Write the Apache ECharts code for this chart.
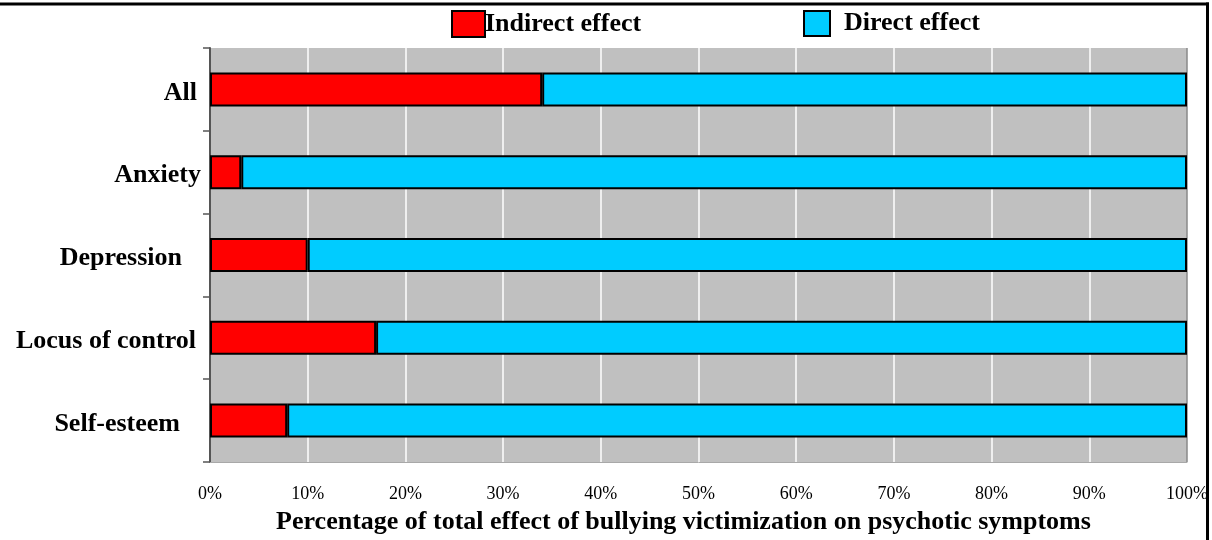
<!DOCTYPE html>
<html>
<head>
<meta charset="utf-8">
<script src="https://cdn.jsdelivr.net/npm/echarts@6/dist/echarts.min.js"></script>
<style>
html,body{margin:0;padding:0;background:#fff;}
#chart{width:1212px;height:540px;}
</style>
</head>
<body>
<div id="chart"></div>
<script>
var categories = ['All', 'Anxiety', 'Depression', 'Locus of control', 'Self-esteem'];
var indirectEffect = [34.0, 3.2, 10.0, 17.0, 7.9];
var directEffect = [66.0, 96.8, 90.0, 83.0, 92.1];
var xTicks = ['0%', '10%', '20%', '30%', '40%', '50%', '60%', '70%', '80%', '90%', '100%'];
var seriesNames = ['Indirect effect', 'Direct effect'];
var xTitle = 'Percentage of total effect of bullying victimization on psychotic symptoms';

var labelExtraPad = [0, -4, 15, 1, 17];
var FONT = '"Liberation Serif", "Times New Roman", serif';

var chart = echarts.init(document.getElementById('chart'), null, {renderer: 'canvas'});

var splitColors = [];
for (var i = 0; i < xTicks.length; i++) {
  splitColors.push(i === xTicks.length - 1 ? '#8a8a8a' : '#ffffff');
}

var richLabels = {};
for (var j = 0; j < categories.length; j++) {
  richLabels['p' + j] = {
    fontFamily: FONT, fontWeight: 'bold', fontSize: 26, color: '#000',
    padding: [7, labelExtraPad[j], 0, 0]
  };
}

var option = {
  animation: false,
  backgroundColor: '#ffffff',
  grid: {
    left: 210, right: 25, top: 48, bottom: 76,
    show: true, backgroundColor: '#c0c0c0', borderWidth: 0
  },
  legend: [
    {
      data: [seriesNames[0]], left: 451, top: 10, padding: 0,
      itemWidth: 33, itemHeight: 26, icon: 'rect',
      textStyle: {fontFamily: FONT, fontWeight: 'bold', fontSize: 26, color: '#000', padding: [0, 0, 0, -5]}
    },
    {
      data: [seriesNames[1]], left: 803, top: 10, padding: 0,
      itemWidth: 26, itemHeight: 25, icon: 'rect',
      textStyle: {fontFamily: FONT, fontWeight: 'bold', fontSize: 26, color: '#000', padding: [0, 0, 0, 9]}
    }
  ],
  xAxis: {
    type: 'value', min: 0, max: 100, interval: 10,
    axisLine: {show: true, lineStyle: {color: '#a8a8a8', width: 1}},
    axisTick: {show: false},
    splitLine: {show: true, lineStyle: {color: splitColors, width: 1.5}},
    axisLabel: {
      margin: 23, fontFamily: FONT, fontSize: 18, color: '#000',
      formatter: function (v) { return xTicks[Math.round(v / 10)]; }
    },
    name: xTitle, nameLocation: 'middle', nameGap: 47,
    nameTextStyle: {fontFamily: FONT, fontWeight: 'bold', fontSize: 26, color: '#000', padding: [0, 30, 0, 0]}
  },
  yAxis: {
    type: 'category', inverse: true,
    data: categories,
    axisLine: {show: true, lineStyle: {color: '#555', width: 2}},
    axisTick: {show: true, inside: false, length: 7, lineStyle: {color: '#555', width: 1.5}},
    axisLabel: {
      margin: 13, fontFamily: FONT, fontWeight: 'bold', fontSize: 26, color: '#000',
      formatter: function (v, idx) { return '{p' + idx + '|' + v + '}'; },
      rich: richLabels
    },
    splitLine: {show: false}
  },
  series: [
    {
      name: seriesNames[0], type: 'bar', stack: 'total', barWidth: 34,
      data: indirectEffect,
      itemStyle: {color: '#ff0000', borderColor: '#000', borderWidth: 2}
    },
    {
      name: seriesNames[1], type: 'bar', stack: 'total', barWidth: 34,
      data: directEffect,
      itemStyle: {color: '#00ccff', borderColor: '#000', borderWidth: 2}
    }
  ],
  graphic: [
    {type: 'rect', shape: {x: 0, y: 2.5, width: 1209, height: 3}, style: {fill: '#000'}, silent: true},
    {type: 'rect', shape: {x: 1206, y: 2.5, width: 3, height: 540}, style: {fill: '#000'}, silent: true}
  ]
};
chart.setOption(option);
</script>
</body>
</html>
